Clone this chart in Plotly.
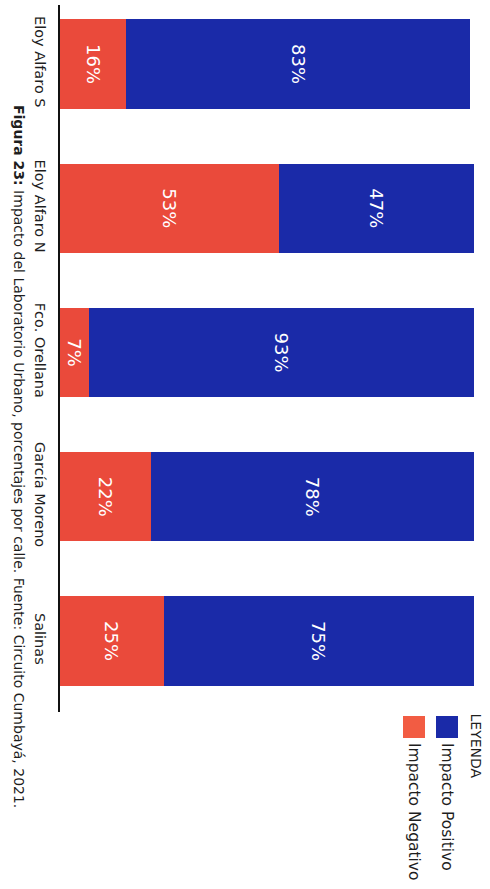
import plotly.graph_objects as go

categories = ["Eloy Alfaro S", "Eloy Alfaro N", "Fco. Orellana", "García Moreno", "Salinas"]
negativo = [16, 53, 7, 22, 25]
positivo = [83, 47, 93, 78, 75]
series_names = ["Impacto Negativo", "Impacto Positivo"]
legend_title = "LEYENDA"
caption_bold = "Figura 23:"
caption_rest = " Impacto del Laboratorio Urbano, porcentajes por calle. Fuente: Circuito Cumbayá, 2021."

RED = "#ea4a3b"
RED_LEG = "#f25c43"
BLUE = "#1a2aa8"
FONT = "DejaVu Sans"
TXT = "#1e1e1e"

fig = go.Figure()
for vals, name, color in [(negativo, series_names[0], RED), (positivo, series_names[1], BLUE)]:
    fig.add_trace(go.Bar(
        y=categories, x=vals, orientation="h", name=name,
        marker=dict(color=color, line=dict(width=0)),
        text=[f"{v}%" for v in vals], textposition="inside",
        insidetextanchor="middle", textangle=90,
        textfont=dict(color="white", size=18, family=FONT),
        width=0.62, hoverinfo="skip",
    ))

W, H = 490, 889
L, R, T, B = 60, 16, 5, 177
pw, ph = W - L - R, H - T - B

def px(x):
    return (x - L) / pw

def py(y):
    return (H - B - y) / ph

fig.update_layout(
    width=W, height=H, barmode="stack", showlegend=False,
    margin=dict(l=L, r=R, t=T, b=B, autoexpand=False),
    paper_bgcolor="white", plot_bgcolor="white",
    font=dict(family=FONT, color=TXT),
    xaxis=dict(range=[0, 100], visible=False, showgrid=False, zeroline=False),
    yaxis=dict(
        range=[4.492, -0.409], showline=True, linecolor="#111111", linewidth=2,
        showgrid=False, zeroline=False, tickangle=90, automargin=False,
        tickfont=dict(size=14.5, family=FONT, color=TXT),
        ticks="", ticklabelstandoff=6,
    ),
)

# caption
fig.add_annotation(
    xref="paper", yref="paper", x=px(19), y=py(456),
    text=f"<b>{caption_bold}</b>{caption_rest}", textangle=90, showarrow=False,
    xanchor="center", yanchor="middle",
    font=dict(size=14, family=FONT, color=TXT),
)

# custom legend
fig.add_annotation(
    xref="paper", yref="paper", x=px(476), y=py(711),
    text=legend_title, textangle=90, showarrow=False,
    xanchor="center", yanchor="top",
    font=dict(size=14, family=FONT, color=TXT),
)
for name, color, xc in [(series_names[1], BLUE, 447), (series_names[0], RED_LEG, 414)]:
    fig.add_shape(
        type="rect", xref="paper", yref="paper",
        x0=px(xc - 11), x1=px(xc + 11), y0=py(716), y1=py(738),
        fillcolor=color, line=dict(width=0),
    )
    fig.add_annotation(
        xref="paper", yref="paper", x=px(xc), y=py(741),
        text=name, textangle=90, showarrow=False,
        xanchor="center", yanchor="top",
        font=dict(size=15.5, family=FONT, color=TXT),
    )

fig.write_html(
    "out.html",
    config={"displayModeBar": False},
    post_script="document.body.style.margin='0';document.body.style.padding='0';",
)
